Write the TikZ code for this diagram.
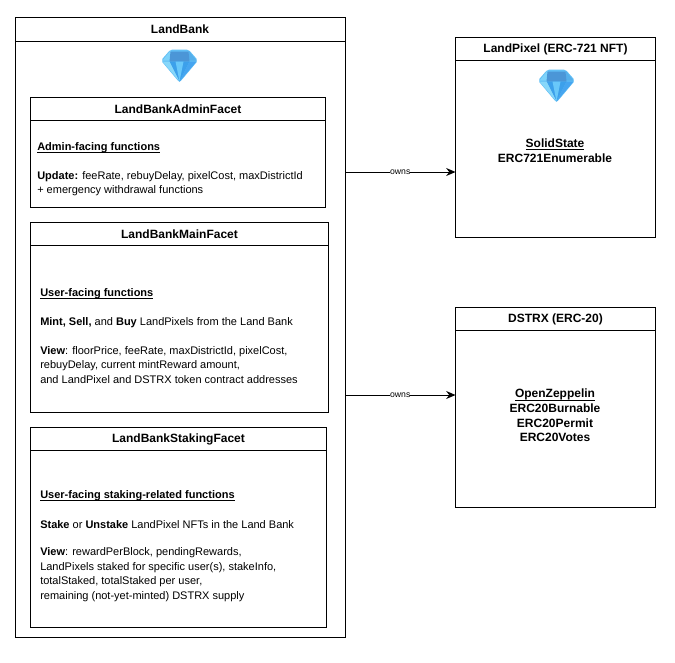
\documentclass[tikz,border=0pt]{standalone}
\usepackage{fontspec}
\setmainfont{Liberation Sans}
\usetikzlibrary{arrows.meta}
\tikzset{
  x=0.75pt,y=-0.75pt,
  box/.style={draw=black,line width=0.75pt,fill=white,anchor=north west,inner sep=0pt,outer sep=0pt},
  head/.style={box,font=\fontsize{9}{11}\selectfont\bfseries},
  body/.style={anchor=west,align=left,inner sep=0pt,font=\fontsize{8.25}{11}\selectfont},
  subhead/.style={anchor=base west,inner sep=0pt,font=\fontsize{8.25}{11}\selectfont\bfseries},
  lib/.style={anchor=center,align=center,inner sep=0pt,font=\fontsize{9}{11}\selectfont\bfseries},
  conn/.style={draw=black,line width=0.75pt,-{Stealth[length=7pt,width=6pt]}},
  lbl/.style={fill=white,inner sep=0pt,font=\fontsize{6.5}{8}\selectfont},
}
\newcommand{\ulx}[1]{\underline{\smash{#1}}}
\newcommand{\gem}[2]{%
  \begin{scope}[shift={(#1,#2)}]
    \fill[color={rgb,255:red,96;green,190;blue,245},rounded corners=1.5pt] (-18.5,-5) -- (-9,-16) -- (9,-16) -- (18.5,-5) -- (0,17) -- cycle;
    \fill[color={rgb,255:red,125;green,210;blue,250}] (-17,-5) -- (-9,-15) -- (-9,-5) -- cycle;
    \fill[color={rgb,255:red,85;green,175;blue,235}] (17,-5) -- (9,-15) -- (9,-5) -- cycle;
    \fill[color={rgb,255:red,75;green,150;blue,215}] (-9,-14) -- (9,-14) -- (10,-4) -- (-10,-4) -- cycle;
    \fill[color={rgb,255:red,60;green,160;blue,235}] (-10,-4) -- (10,-4) -- (0,16) -- cycle;
    \fill[color={rgb,255:red,105;green,200;blue,250}] (-4,-4) -- (4,-4) -- (0,16) -- cycle;
    \fill[color={rgb,255:red,135;green,215;blue,250}] (-17,-4) -- (-10,-4) -- (0,16) -- cycle;
    \fill[color={rgb,255:red,70;green,165;blue,240}] (17,-4) -- (10,-4) -- (0,16) -- cycle;
  \end{scope}}
\begin{document}
\begin{tikzpicture}
\useasboundingbox (0,0) rectangle (675,662);
% LandBank
\node[box,minimum width=247.5pt,minimum height=465pt] (lb) at (15,17) {};
\node[head,minimum width=247.5pt,minimum height=18pt] (lbh) at (lb.north west) {LandBank};
\gem{179.5}{65.5}
% Admin
\node[box,minimum width=221.25pt,minimum height=82.5pt] (ad) at (30.5,97.5) {};
\node[head,minimum width=221.25pt,minimum height=17.25pt] (adh) at (ad.north west) {LandBankAdminFacet};
\node[subhead] (adt1) at (37,150) {\ulx{Admin-facing functions}};
\node[body] (adt2) at (37,183.5) {\textbf{Update:} feeRate, rebuyDelay, pixelCost, maxDistrictId\\+ emergency withdrawal functions};
% Main
\node[box,minimum width=223.5pt,minimum height=142.5pt] (ma) at (30.5,222.5) {};
\node[head,minimum width=223.5pt,minimum height=17.25pt] (mah) at (ma.north west) {LandBankMainFacet};
\node[subhead] (mat1) at (40,296) {\ulx{User-facing functions}};
\node[body] (mat2) at (40,322.5) {\textbf{Mint, Sell,} and \textbf{Buy} LandPixels from the Land Bank};
\node[body] (mat3) at (40,365) {\textbf{View}: floorPrice, feeRate, maxDistrictId, pixelCost,\\rebuyDelay, current mintReward amount,\\and LandPixel and DSTRX token contract addresses};
% Staking
\node[box,minimum width=222pt,minimum height=150pt] (st) at (30.5,427.5) {};
\node[head,minimum width=222pt,minimum height=17.25pt] (sth) at (st.north west) {LandBankStakingFacet};
\node[subhead] (stt1) at (40,498) {\ulx{User-facing staking-related functions}};
\node[body] (stt2) at (40,525) {\textbf{Stake} or \textbf{Unstake} LandPixel NFTs in the Land Bank};
\node[body] (stt3) at (40,574.5) {\textbf{View}: rewardPerBlock, pendingRewards,\\LandPixels staked for specific user(s), stakeInfo,\\totalStaked, totalStaked per user,\\remaining (not-yet-minted) DSTRX supply};
% LandPixel
\node[box,minimum width=150pt,minimum height=150pt] (lp) at (455.5,37.5) {};
\node[head,minimum width=150pt,minimum height=17.25pt] (lph) at (lp.north west) {LandPixel (ERC-721 NFT)};
\gem{556.5}{85.5}
\node[lib] (lpt) at (555,155) {\ulx{SolidState}\\ERC721Enumerable};
% DSTRX
\node[box,minimum width=150pt,minimum height=150pt] (ds) at (455.5,307.5) {};
\node[head,minimum width=150pt,minimum height=17.25pt] (dsh) at (ds.north west) {DSTRX (ERC-20)};
\node[lib] (dst) at (555,420) {\ulx{OpenZeppelin}\\ERC20Burnable\\ERC20Permit\\ERC20Votes};
% Connectors
\coordinate (c1) at (lb.east |- 0,172);
\coordinate (c2) at (lb.east |- 0,395);
\draw[conn] (c1) -- node[lbl] (o1) {owns} (lp.west |- c1);
\draw[conn] (c2) -- node[lbl] (o2) {owns} (ds.west |- c2);
\end{tikzpicture}
\end{document}
